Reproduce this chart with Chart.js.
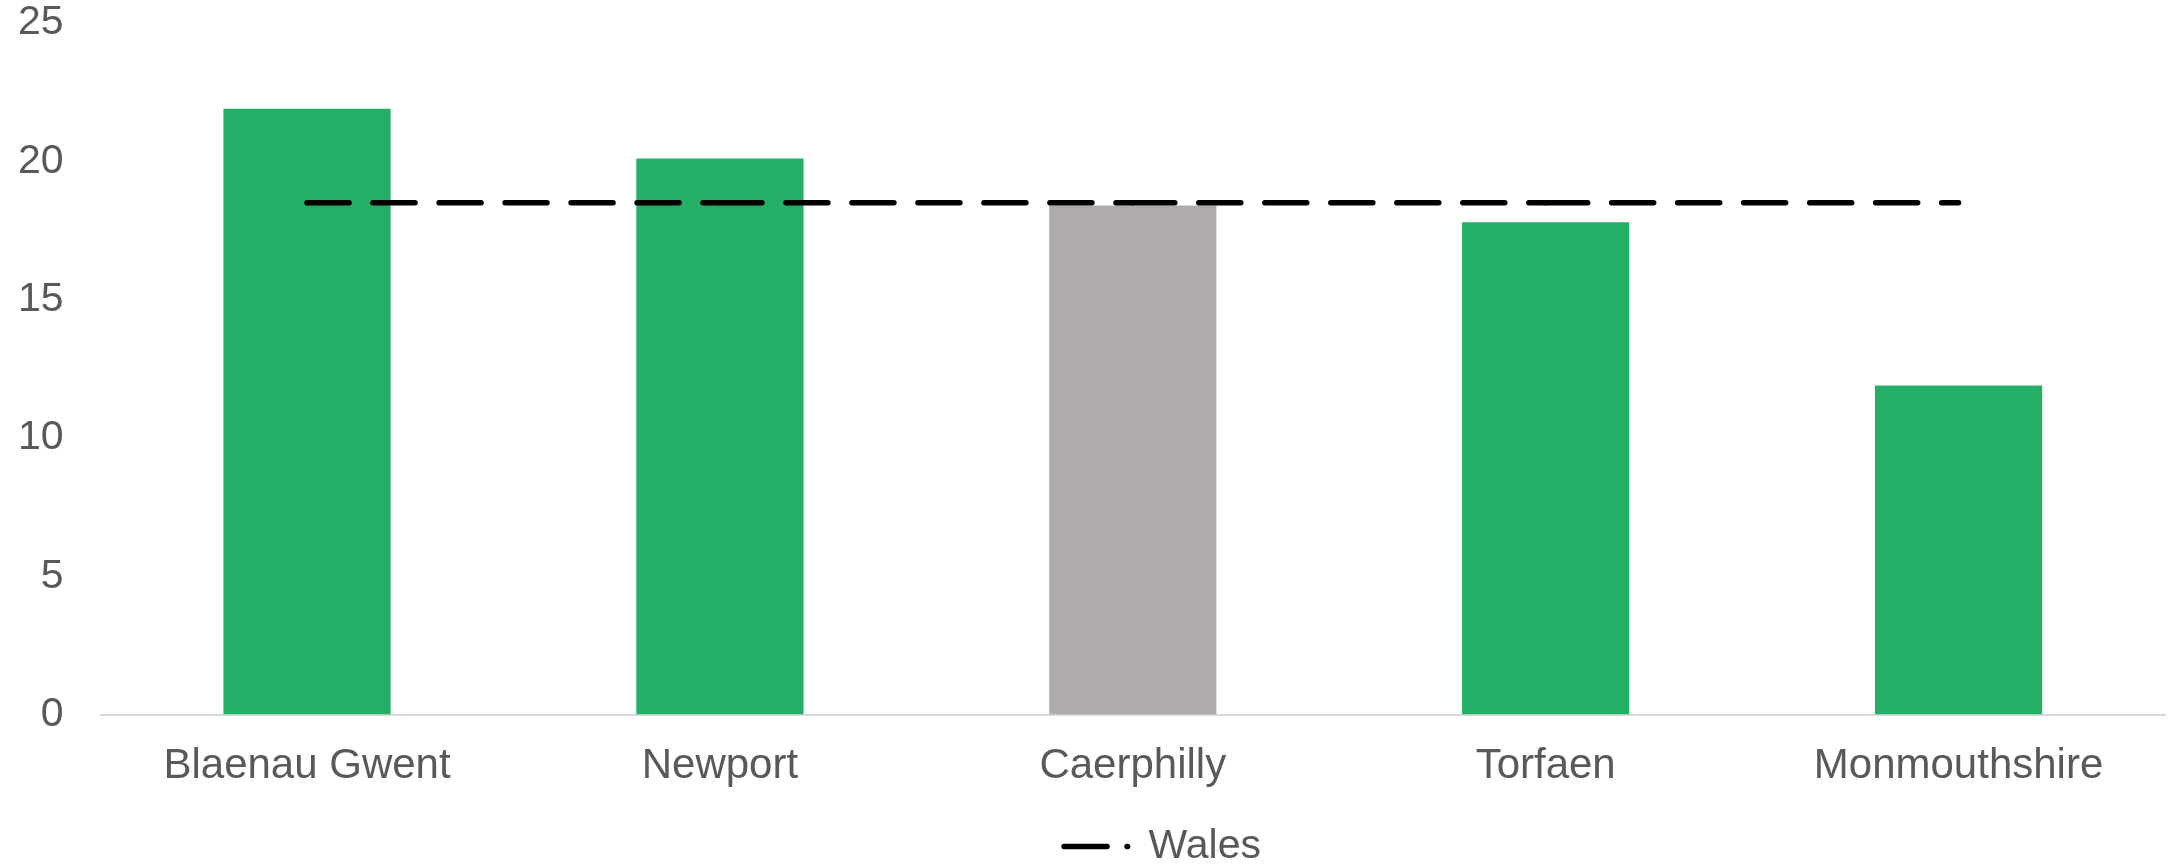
<!DOCTYPE html>
<html>
<head>
<meta charset="utf-8">
<style>
  html, body { margin: 0; padding: 0; background: #fff; }
  #wrap { width: 2171px; height: 866px; }
</style>
<script src="https://cdn.jsdelivr.net/npm/chart.js@4"></script>
</head>
<body>
<div id="wrap"><canvas id="myChart" width="2171" height="866"></canvas></div>
<script>
const areas = ['Blaenau Gwent', 'Newport', 'Caerphilly', 'Torfaen', 'Monmouthshire'];
const areaValues = [21.9, 20.1, 18.4, 17.8, 11.9];
const walesValues = [18.5, 18.5, 18.5, 18.5, 18.5];
const barColours = ['#23B066', '#23B066', '#AFABAB', '#23B066', '#23B066'];
const yTicks = [0, 5, 10, 15, 20, 25];

Chart.defaults.font.family = '"Liberation Sans", Arial, sans-serif';
Chart.defaults.color = '#595959';

// nudge the legend a bit to the right, like the original
const legendShift = {
    id: 'legendShift',
    afterLayout(chart) {
        chart.legend.left += 86;
        chart.legend.right += 86;
    }
};

const ctx = document.getElementById('myChart');
const myChart = new Chart(ctx, {
    type: 'bar',
    data: {
        labels: areas,
        datasets: [{
            type: 'line',
            label: 'Wales',
            data: walesValues,
            borderColor: '#000000',
            backgroundColor: '#000000',
            borderWidth: 5.5,
            borderDash: [42, 24],
            borderCapStyle: 'round',
            pointRadius: 0,
            fill: false,
            // split into one piece per category so the dash pattern restarts at each point
            segment: {
                borderDashOffset: c => (c.p0DataIndex % 2 ? 0.0001 : 0)
            },
            order: 0
        }, {
            label: 'Area',
            data: areaValues,
            backgroundColor: barColours,
            barPercentage: 0.405,
            categoryPercentage: 1,
            order: 1
        }]
    },
    options: {
        responsive: false,
        animation: false,
        layout: {
            padding: { left: -19, right: 6, top: 0, bottom: -11 }
        },
        plugins: {
            tooltip: { enabled: false },
            legend: {
                position: 'bottom',
                labels: {
                    boxWidth: 71,
                    boxHeight: 0,
                    font: { size: 41 },
                    padding: 7,
                    // only the Wales line, drawn as "— ·"
                    generateLabels: () => [{
                        text: 'Wales',
                        datasetIndex: 0,
                        fillStyle: '#000000',
                        strokeStyle: '#000000',
                        fontColor: '#595959',
                        lineWidth: 5.5,
                        lineCap: 'round',
                        lineDash: [43, 20, 0.5, 100],
                        lineDashOffset: -7,
                        hidden: false
                    }]
                }
            }
        },
        scales: {
            x: {
                grid: { display: false, drawTicks: false },
                border: { color: '#D9D9D9', width: 2 },
                ticks: { font: { size: 42 }, padding: 27 }
            },
            y: {
                min: yTicks[0],
                max: yTicks[yTicks.length - 1],
                grid: { display: false, drawTicks: false },
                border: { display: false },
                ticks: { stepSize: yTicks[1] - yTicks[0], font: { size: 41 }, padding: 37 },
                afterFit: (scale) => { scale.paddingTop = 23; }
            }
        }
    },
    plugins: [legendShift]
});
</script>
</body>
</html>
